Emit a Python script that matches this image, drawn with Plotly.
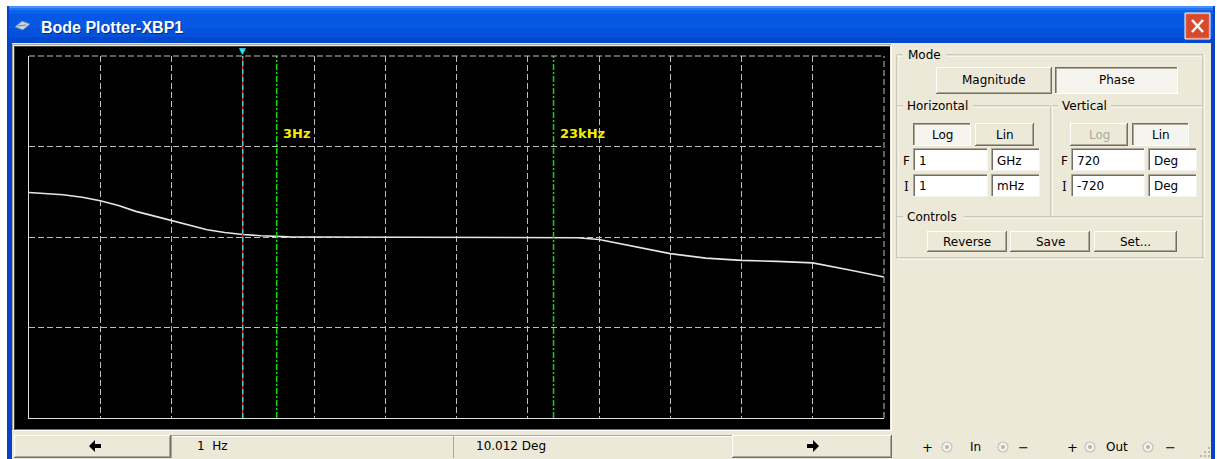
import math
import plotly.graph_objects as go

W, H = 1217, 459

# Phase sweep of the circuit (frequency in Hz, phase in degrees)
freq_hz = [0.001, 0.0018, 0.003, 0.0056, 0.01, 0.018, 0.0316, 0.056, 0.1,
           0.18, 0.316, 0.56, 1, 1.8, 3, 4.5, 10, 100, 1000, 10000, 23000,
           50000, 100000, 316000, 1e6, 3.16e6, 1e7, 3.16e7, 1e8, 3.16e8, 1e9]
phase_deg = [177, 173, 168, 158, 144, 125, 102, 84, 66,
             46, 29, 18, 10.012, 5, 2, 0.5, 0, 0, 0, 0, 0,
             -3, -10, -37, -66, -84, -93, -97, -103, -130, -159]

# Axis settings of the plotter
f_min_hz, f_max_hz = 1e-3, 1e9
v_min_deg, v_max_deg = -720, 720
v_step_deg = 360

# Cursor and frequency markers
cursor_hz = 1
cursor_phase_text = "10.012 Deg"
cursor_freq_text = "1  Hz"
marker_hz = [3, 23000]
marker_labels = ["3Hz", "23kHz"]

# Panel field values
h_final, h_final_unit = "1", "GHz"
h_init, h_init_unit = "1", "mHz"
v_final, v_final_unit = "720", "Deg"
v_init, v_init_unit = "-720", "Deg"

FONT = "DejaVu Sans"
BEIGE = "#ECE9D8"
HILITE = "#FFFFFF"
SHADOW = "#ACA899"
DARK = "#716F64"


def px(x):
    return x / W


def py(y):
    return 1 - y / H


shapes = []
annotations = []


def rect(x0, y0, x1, y1, fill, line=None, lw=0, layer="below"):
    shapes.append(dict(type="rect", xref="paper", yref="paper",
                       x0=px(x0), x1=px(x1), y0=py(y1), y1=py(y0),
                       fillcolor=fill, line=dict(color=line or fill, width=lw),
                       layer=layer))


def seg(x0, y0, x1, y1, color, width=1, dash=None, layer="below"):
    ln = dict(color=color, width=width)
    if dash:
        ln["dash"] = dash
    shapes.append(dict(type="line", xref="paper", yref="paper",
                       x0=px(x0), x1=px(x1), y0=py(y0), y1=py(y1),
                       line=ln, layer=layer))


def text(x, y, s, size=12, color="#000000", anchor="left", bold=False,
         family=FONT):
    if bold:
        s = "<b>" + s + "</b>"
    annotations.append(dict(xref="paper", yref="paper", x=px(x), y=py(y),
                            text=s, showarrow=False, xanchor=anchor,
                            yanchor="middle", borderpad=0,
                            font=dict(family=family, size=size, color=color)))


def button(x0, y0, x1, y1, label, pressed=False, disabled=False):
    face = "#F5F4EE" if pressed else BEIGE
    rect(x0, y0, x1, y1, face)
    if pressed:
        seg(x0, y0 + 0.5, x1, y0 + 0.5, DARK)
        seg(x0 + 0.5, y0, x0 + 0.5, y1, DARK)
        seg(x0 + 1, y0 + 1.5, x1 - 1, y0 + 1.5, SHADOW)
        seg(x0 + 1.5, y0 + 1, x0 + 1.5, y1 - 1, SHADOW)
        seg(x0, y1 - 0.5, x1, y1 - 0.5, HILITE)
        seg(x1 - 0.5, y0, x1 - 0.5, y1, HILITE)
    else:
        seg(x0, y0 + 0.5, x1, y0 + 0.5, HILITE)
        seg(x0 + 0.5, y0, x0 + 0.5, y1, HILITE)
        seg(x0, y1 - 0.5, x1, y1 - 0.5, DARK)
        seg(x1 - 0.5, y0, x1 - 0.5, y1, DARK)
        seg(x0 + 1, y1 - 1.5, x1 - 1, y1 - 1.5, SHADOW)
        seg(x1 - 1.5, y0 + 1, x1 - 1.5, y1 - 1, SHADOW)
    if label:
        text((x0 + x1) / 2, (y0 + y1) / 2, label, anchor="center",
             color="#ACA899" if disabled else "#000000")


def field(x0, y0, x1, y1, value):
    rect(x0, y0, x1, y1, "#FFFFFF")
    seg(x0, y0 + 0.5, x1, y0 + 0.5, SHADOW)
    seg(x0 + 0.5, y0, x0 + 0.5, y1, SHADOW)
    seg(x0 + 1, y0 + 1.5, x1 - 1, y0 + 1.5, DARK)
    seg(x0 + 1.5, y0 + 1, x0 + 1.5, y1 - 1, DARK)
    seg(x0, y1 - 0.5, x1, y1 - 0.5, "#F4F3EE")
    seg(x1 - 0.5, y0, x1 - 0.5, y1, "#F4F3EE")
    text(x0 + 5, (y0 + y1) / 2 + 1, value)


def etched_h(x0, x1, y):
    seg(x0, y, x1, y, SHADOW)
    seg(x0, y + 1, x1, y + 1, HILITE)


def etched_v(x, y0, y1):
    seg(x, y0, x, y1, SHADOW)
    seg(x + 1, y0, x + 1, y1, HILITE)


# ---- window chrome -------------------------------------------------------
rect(7, 6, 1215, 459, "#0842C8")                       # outer blue frame
title_bands = [(6, 8, "#4A93F8"), (8, 10, "#2573F0"), (10, 14, "#0B62EA"),
               (14, 28, "#0658E4"), (28, 37, "#0452DC"), (37, 43, "#0349D0")]
for y0, y1, c in title_bands:
    rect(9, y0, 1213, y1, c)
rect(12, 43, 1211, 459, BEIGE)                         # client area

# title icon
shapes.append(dict(type="path", xref="paper", yref="paper", layer="below",
                   path="M {} {} L {} {} L {} {} L {} {} Z".format(
                       px(15), py(27), px(22), py(21), px(30), py(24), px(23), py(30)),
                   fillcolor="#C8D4E8", line=dict(color="#6C7FA8", width=1)))
seg(18, 26, 26, 25, "#6C7FA8")
# title text with a drop shadow
text(41, 28, "Bode Plotter-XBP1", size=16, color="#0A2A7A", bold=True,
     family="Liberation Sans")
text(40, 27, "Bode Plotter-XBP1", size=16, color="#FFFFFF", bold=True,
     family="Liberation Sans")

# close button
rect(1185, 13, 1210, 39, "#E2583A", line="#FFFFFF", lw=1)
rect(1187, 15, 1208, 37, "#D94A2C")
seg(1192, 20, 1203, 32, "#FFFFFF", width=2.5)
seg(1203, 20, 1192, 32, "#FFFFFF", width=2.5)

# sunken frame round the display
seg(12, 44.5, 891, 44.5, SHADOW)
seg(12.5, 44, 12.5, 431, SHADOW)
seg(14, 46.5, 890, 46.5, "#404040")
seg(14.5, 46, 14.5, 430, "#404040")
seg(12, 430.5, 892, 430.5, HILITE)
seg(891.5, 44, 891.5, 431, HILITE)
rect(15, 47, 890, 429.5, "#000000")

# ---- right-hand control panel --------------------------------------------
# Mode group
seg(897, 55, 903, 55, SHADOW); seg(897, 56, 903, 56, HILITE)
etched_h(946, 1203, 55)
etched_v(897, 55, 258)
etched_v(1203, 55, 258)
etched_h(897, 1204, 258)
text(907, 55, "Mode")
button(936, 67, 1052, 94, "Magnitude")
button(1055, 67, 1178, 94, "Phase", pressed=True)

# Horizontal / Vertical groups
etched_h(897, 903, 106)
etched_h(973, 1050, 106)
text(906, 106, "Horizontal")
etched_h(1052, 1058, 106)
etched_h(1111, 1203, 106)
text(1061, 106, "Vertical")
etched_v(1051, 106, 216)

button(913, 123, 971, 146, "Log", pressed=True)
button(975, 123, 1034, 146, "Lin")
button(1070, 123, 1128, 146, "Log", disabled=True)
button(1132, 123, 1189, 146, "Lin", pressed=True)

text(902, 161, "F")
text(903, 187, "I", family="DejaVu Serif")
field(913, 148, 988, 171, h_final)
field(991, 148, 1040, 171, h_final_unit)
field(913, 174, 988, 197, h_init)
field(991, 174, 1040, 197, h_init_unit)

text(1060, 161, "F")
text(1061, 187, "I", family="DejaVu Serif")
field(1071, 148, 1145, 171, v_final)
field(1148, 148, 1197, 171, v_final_unit)
field(1071, 174, 1145, 197, v_init)
field(1148, 174, 1197, 197, v_init_unit)

# Controls group
etched_h(897, 903, 217)
etched_h(964, 1203, 217)
text(906, 217, "Controls")
button(927, 231, 1007, 252, "Reverse")
button(1010, 231, 1090, 252, "Save")
button(1094, 231, 1177, 252, "Set...")

# ---- bottom cursor bar ---------------------------------------------------
button(14, 435, 171, 458, "")
button(732, 435, 892, 458, "")
for x0, x1 in [(171, 453), (453, 732)]:
    seg(x0, 435.5, x1, 435.5, SHADOW)
    seg(x0 + 0.5, 435, x0 + 0.5, 458, SHADOW)
    seg(x0 + 1, 436.5, x1, 436.5, HILITE)
text(196, 446, cursor_freq_text)
text(475, 446, cursor_phase_text)

# arrows on the cursor buttons
shapes.append(dict(type="path", xref="paper", yref="paper", layer="below",
                   path="M {} {} L {} {} L {} {} L {} {} L {} {} L {} {} L {} {} Z".format(
                       px(89), py(446), px(95), py(440), px(95), py(444),
                       px(101), py(444), px(101), py(448), px(95), py(448),
                       px(95), py(452)),
                   fillcolor="#000000", line=dict(width=0)))
shapes.append(dict(type="path", xref="paper", yref="paper", layer="below",
                   path="M {} {} L {} {} L {} {} L {} {} L {} {} L {} {} L {} {} Z".format(
                       px(819), py(446), px(813), py(440), px(813), py(444),
                       px(807), py(444), px(807), py(448), px(813), py(448),
                       px(813), py(452)),
                   fillcolor="#000000", line=dict(width=0)))

# In / Out terminal radios
for x in [927, 1072]:
    text(x, 447, "+", anchor="center", size=13)
for x in [1023, 1170]:
    text(x, 447, "−", anchor="center", size=13)
text(975, 447, "In", anchor="center")
text(1117, 447, "Out", anchor="center")
for cx in [947, 1003, 1090, 1148]:
    shapes.append(dict(type="circle", xref="paper", yref="paper", layer="below",
                       x0=px(cx - 5), x1=px(cx + 5), y0=py(452), y1=py(442),
                       fillcolor="#F3F2EC", line=dict(color="#C4C2B8", width=1.2)))
    shapes.append(dict(type="circle", xref="paper", yref="paper", layer="below",
                       x0=px(cx - 2), x1=px(cx + 2), y0=py(449), y1=py(445),
                       fillcolor="#B8B6AC", line=dict(width=0)))

# size grip dots
for gx, gy in [(1208, 447), (1204, 451), (1208, 451), (1200, 455), (1204, 455), (1208, 455)]:
    rect(gx, gy, gx + 2, gy + 2, "#BDB9A6")

# ---- the Bode display ----------------------------------------------------
fig = go.Figure()

fig.add_trace(go.Scatter(
    x=freq_hz, y=phase_deg, mode="lines",
    line=dict(color="#E6E6E6", width=1.6), hoverinfo="skip", showlegend=False))

# cursor: red line with cyan dashes over it
fig.add_trace(go.Scatter(x=[cursor_hz, cursor_hz], y=[v_min_deg, v_max_deg],
                         mode="lines", line=dict(color="#D02020", width=1.3),
                         hoverinfo="skip", showlegend=False))
fig.add_trace(go.Scatter(x=[cursor_hz, cursor_hz], y=[v_min_deg, v_max_deg],
                         mode="lines",
                         line=dict(color="#30E0F0", width=1.3, dash="5px,3px"),
                         hoverinfo="skip", showlegend=False))
annotations.append(dict(xref="x", yref="paper", x=math.log10(cursor_hz),
                        y=py(51), text="▼", showarrow=False, xanchor="center",
                        yanchor="middle", font=dict(size=9, color="#30E0F0",
                                                    family=FONT)))

# frequency markers with their labels
for f, lab in zip(marker_hz, marker_labels):
    fig.add_trace(go.Scatter(x=[f, f], y=[v_min_deg, v_max_deg], mode="lines",
                             line=dict(color="#00E000", width=1.5,
                                       dash="6px,2px,2px,2px"),
                             hoverinfo="skip", showlegend=False))
    annotations.append(dict(xref="x", yref="paper", x=math.log10(f), xshift=4,
                            y=py(133), text="<b>" + lab + "</b>",
                            showarrow=False, xanchor="left", yanchor="middle",
                            font=dict(size=13, color="#F2F000", family=FONT)))

# dashed right and top edges of the graticule
GRID = "#BDBDBD"
shapes.append(dict(type="line", xref="paper", yref="paper", layer="above",
                   x0=px(884), x1=px(884), y0=py(418), y1=py(56),
                   line=dict(color=GRID, width=1, dash="6px,3px")))
shapes.append(dict(type="line", xref="paper", yref="paper", layer="above",
                   x0=px(29), x1=px(884), y0=py(56), y1=py(56),
                   line=dict(color=GRID, width=1, dash="6px,3px")))

fig.update_layout(
    width=W, height=H,
    margin=dict(l=0, r=0, t=0, b=0),
    paper_bgcolor="#FFFFFF",
    plot_bgcolor="rgba(0,0,0,0)",
    showlegend=False,
    shapes=shapes,
    annotations=annotations,
    xaxis=dict(type="log", range=[math.log10(f_min_hz), math.log10(f_max_hz)],
               domain=[px(29), px(884)], dtick=1, showticklabels=False,
               ticks="", showgrid=True, gridcolor=GRID, gridwidth=1,
               griddash="6px,3px", zeroline=False, showline=True,
               linecolor="#E0E0E0", linewidth=1, fixedrange=True),
    yaxis=dict(range=[v_min_deg, v_max_deg], domain=[py(418), py(56)],
               tick0=0, dtick=v_step_deg, showticklabels=False, ticks="",
               showgrid=True, gridcolor=GRID, gridwidth=1, griddash="6px,3px",
               zeroline=False, showline=True, linecolor="#E0E0E0",
               linewidth=1, fixedrange=True),
)

fig.write_html("out.html")
